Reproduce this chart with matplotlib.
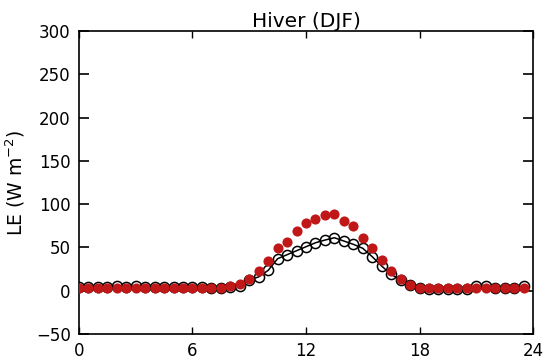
import numpy as np
import matplotlib
matplotlib.use("Agg")
import matplotlib.pyplot as plt

# half-hourly hours 0..23.5
hours = np.arange(48) * 0.5

# observed (red filled)
le_obs = [3, 3, 3, 3, 3, 3, 3, 3, 3, 3, 3, 3,
          2.8, 3, 3, 3, 5.4, 7.7, 13.5, 22.7, 34.7, 49.7, 56.6, 69.3,
          77.8, 82.4, 87.8, 88.6, 80.1, 74.7, 60.5, 49.3, 35.4, 23.1, 13.2, 6.6,
          3, 3, 3, 3, 3, 3, 3, 3, 3, 3, 3, 3]

# model (black open circles)
le_mod = [4.5, 4.5, 4.5, 4.5, 5.5, 4.5, 5.5, 4.5, 4.5, 4.5, 4.5, 4.5,
          4.5, 4.5, 3, 3, 4, 6, 12.3, 16, 23.5, 37, 41.6, 46.2,
          50.8, 55.4, 58.5, 61.2, 57.4, 53.6, 49, 39.3, 28.5, 18.9, 12.4, 6.6,
          3, 2, 2, 2, 2, 2, 5, 5, 3, 3, 3, 5]

fig = plt.figure(figsize=(5.44, 3.6), dpi=100)
ax = fig.add_axes([0.1452, 0.0722, 0.8346, 0.8417])

ax.plot(hours, le_mod, 'o-', color='black', mfc='none', markersize=7.3,
        markeredgewidth=1.1, linewidth=1.1, zorder=3)
ax.plot(hours, le_obs, 'o', color='#c01818', markersize=7.3, markeredgewidth=0, zorder=4)

ax.set_xlim(0, 24)
ax.set_ylim(-50, 300)
ax.set_xticks([0, 6, 12, 18, 24])
ax.set_yticks([-50, 0, 50, 100, 150, 200, 250, 300])
ax.tick_params(axis='y', direction='in', length=7, width=1.2, right=True, labelsize=12, pad=6)
ax.tick_params(axis='x', direction='in', length=5, width=1.0, top=True, labelsize=12, pad=6)
for s in ax.spines.values():
    s.set_linewidth(1.2)

ax.set_title("Hiver (DJF)", fontsize=14.5, pad=3)
ax.set_ylabel("LE (W m$^{-2}$)", fontsize=13.5, labelpad=6)

fig.savefig("out.png", dpi=100)
